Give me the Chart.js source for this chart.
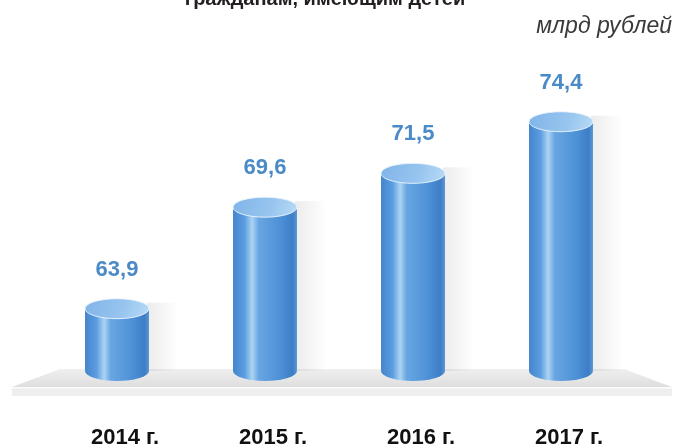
<!DOCTYPE html>
<html>
<head>
<meta charset="utf-8">
<script src="https://cdn.jsdelivr.net/npm/chart.js@4"></script>
<style>
    html, body { margin: 0; padding: 0; background: #ffffff; }
    #wrap { width: 674px; height: 446px; position: relative; }
</style>
</head>
<body>
<div id="wrap"><canvas id="chart" width="674" height="446"></canvas></div>
<script>
// chart data
var years = ['2014 г.', '2015 г.', '2016 г.', '2017 г.'];
var amounts = [63.9, 69.6, 71.5, 74.4];
var titleLine = 'гражданам, имеющим детей';
var unitLabel = 'млрд рублей';

var FONT = '"Liberation Sans", Arial, sans-serif';

// floor plate under the cylinders
var floorPlugin = {
    id: 'floor',
    beforeDatasetsDraw: function (chart) {
        var ctx = chart.ctx;
        ctx.save();
        var g = ctx.createLinearGradient(0, 369, 0, 387);
        g.addColorStop(0, '#efefef');
        g.addColorStop(1, '#dedede');
        ctx.fillStyle = g;
        ctx.beginPath();
        ctx.moveTo(60, 369);
        ctx.lineTo(624, 369);
        ctx.lineTo(672, 387);
        ctx.lineTo(12, 387);
        ctx.closePath();
        ctx.fill();
        ctx.fillStyle = '#fbfbfb';
        ctx.fillRect(12, 387, 660, 1.5);
        ctx.fillStyle = '#eeeeee';
        ctx.fillRect(12, 388.5, 660, 7.5);
        ctx.restore();
    }
};

// draws each bar as a 3d cylinder, the value over it and the year under it
var cylinderPlugin = {
    id: 'cylinders',
    afterDatasetsDraw: function (chart) {
        var ctx = chart.ctx;
        var meta = chart.getDatasetMeta(0);
        // bars start at the bottom of the (truncated) value axis
        var base = chart.scales.y.getPixelForValue(chart.scales.y.min);
        meta.data.forEach(function (bar, i) {
            var x = bar.x, top = bar.y;
            var w = bar.width, left = x - w / 2, right = x + w / 2;
            var ry = 10;
            ctx.save();

            // soft shade behind, to the right
            var sh = ctx.createLinearGradient(right, 0, right + 30, 0);
            sh.addColorStop(0, 'rgba(0,0,0,0.07)');
            sh.addColorStop(1, 'rgba(0,0,0,0)');
            ctx.fillStyle = sh;
            ctx.fillRect(right - 2, top - 6, 32, base - top + 6);

            // body
            var g = ctx.createLinearGradient(left, 0, right, 0);
            g.addColorStop(0, '#4384cc');
            g.addColorStop(0.18, '#5c9de0');
            g.addColorStop(0.3, '#acd3f3');
            g.addColorStop(0.4, '#68a6e2');
            g.addColorStop(0.75, '#4d90d6');
            g.addColorStop(0.93, '#3d7ec6');
            g.addColorStop(1, '#5a95d4');
            ctx.fillStyle = g;
            ctx.beginPath();
            ctx.moveTo(left, top);
            ctx.lineTo(left, base);
            ctx.ellipse(x, base, w / 2, ry, 0, Math.PI, 0, true);
            ctx.lineTo(right, top);
            ctx.closePath();
            ctx.fill();

            // top cap
            var tg = ctx.createLinearGradient(left, top - ry, right, top + ry);
            tg.addColorStop(0, '#80b4e8');
            tg.addColorStop(0.6, '#98c5ef');
            tg.addColorStop(1, '#b9dbf6');
            ctx.fillStyle = tg;
            ctx.beginPath();
            ctx.ellipse(x, top, w / 2, ry, 0, 0, Math.PI * 2);
            ctx.fill();
            ctx.strokeStyle = 'rgba(235,245,255,0.9)';
            ctx.lineWidth = 1;
            ctx.stroke();

            // value
            ctx.fillStyle = '#4a8ac6';
            ctx.font = 'bold 22px ' + FONT;
            ctx.textAlign = 'center';
            ctx.textBaseline = 'middle';
            ctx.fillText(amounts[i].toFixed(1).replace('.', ','), x, top - 39);

            // year
            ctx.fillStyle = '#111111';
            ctx.font = 'bold 22px ' + FONT;
            ctx.fillText(years[i], x + 8, base + 67);
            ctx.restore();
        });
    }
};

// cut-off title line and unit label
var captionPlugin = {
    id: 'captions',
    afterDraw: function (chart) {
        var ctx = chart.ctx;
        ctx.save();
        ctx.fillStyle = '#231f20';
        ctx.font = 'bold 20px ' + FONT;
        ctx.textAlign = 'center';
        ctx.textBaseline = 'alphabetic';
        ctx.fillText(titleLine, 325, 5);
        ctx.fillStyle = '#3a3a3a';
        ctx.font = 'italic 23px ' + FONT;
        ctx.textAlign = 'right';
        ctx.textBaseline = 'middle';
        ctx.fillText(unitLabel, 672, 27);
        ctx.restore();
    }
};

new Chart(document.getElementById('chart').getContext('2d'), {
    type: 'bar',
    data: {
        labels: years,
        datasets: [{
            data: amounts,
            backgroundColor: 'rgba(0,0,0,0)',
            borderWidth: 0,
            barPercentage: 0.432,
            categoryPercentage: 1
        }]
    },
    options: {
        responsive: false,
        animation: false,
        layout: { padding: { left: 43, right: 39, top: 22, bottom: 75 } },
        plugins: {
            legend: { display: false },
            tooltip: { enabled: false }
        },
        scales: {
            x: { display: false },
            y: {
                display: false,
                min: 60.4,
                max: 80
            }
        }
    },
    plugins: [floorPlugin, cylinderPlugin, captionPlugin]
});
</script>
</body>
</html>
